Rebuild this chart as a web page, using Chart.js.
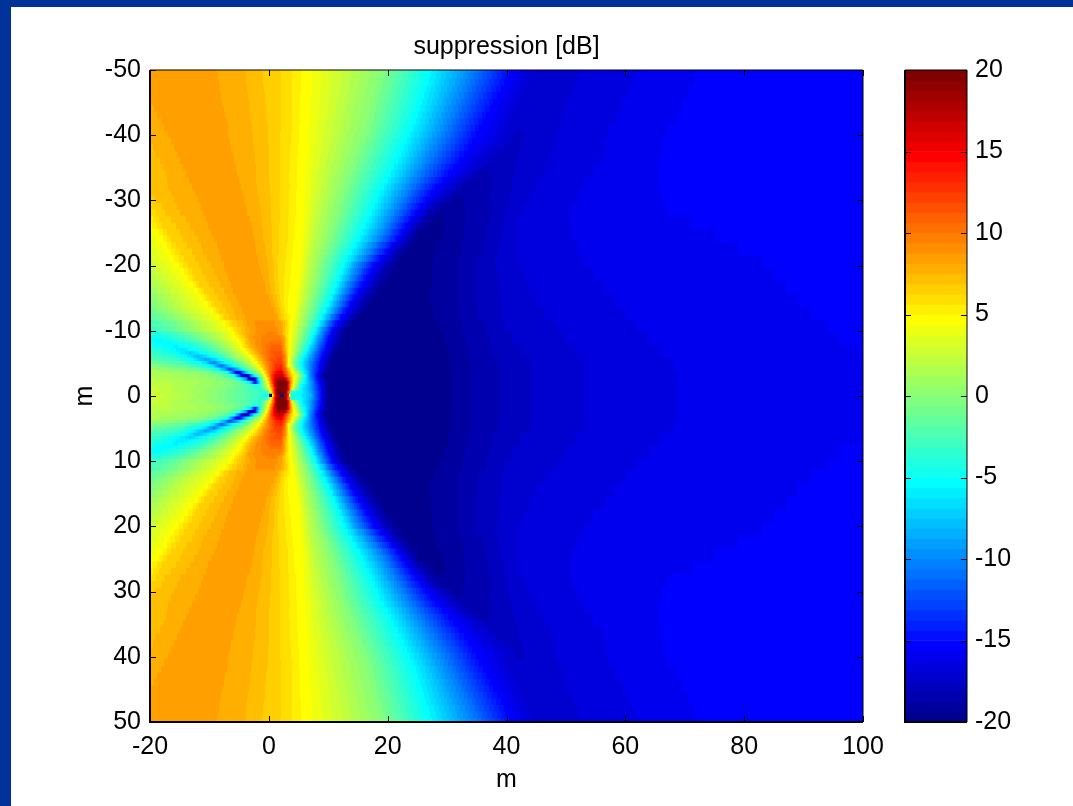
<!DOCTYPE html>
<html lang="en">
<head>
<meta charset="UTF-8">
<title>suppression [dB]</title>
<script src="https://cdn.jsdelivr.net/npm/chart.js"></script>
<style>
    html, body { margin: 0; padding: 0; background: #fff; overflow: hidden; }
    #frameLeft { position: absolute; left: 0; top: 0; width: 11px; height: 806px; background: #003399; }
    #frameTop { position: absolute; left: 0; top: 0; width: 1073px; height: 7px; background: #003399; }
    #mainChart { position: absolute; left: 0; top: 0; }
    #colorBar { position: absolute; left: 890px; top: 0; }
</style>
</head>
<body>
<div id="frameLeft"></div>
<div id="frameTop"></div>
<canvas id="mainChart" width="1009" height="806"></canvas>
<canvas id="colorBar" width="183" height="806"></canvas>
<script>
// tick labels
const xTicks = [-20, 0, 20, 40, 60, 80, 100];
const yTicks = [-50, -40, -30, -20, -10, 0, 10, 20, 30, 40, 50];
const barTicks = [-20, -15, -10, -5, 0, 5, 10, 15, 20];

// rows, the lower half, the upper half is its mirror (m)
const rowY = [0, 0.5, 1, 1.5, 2, 2.5, 3, 3.5, 4, 4.5, 5, 5.5, 6, 6.5, 7, 7.5, 8, 8.5, 9, 9.5, 10,
    11, 12, 13, 14, 15, 16, 17, 18, 19, 20, 21, 22, 23, 24, 25, 26, 27, 28, 29, 30,
    31, 32, 33, 34, 35, 36, 37, 38, 39, 40, 41, 42, 43, 44, 45, 46, 47, 48, 49, 50];

// per row, from the left edge to the dark trough: x (m), suppression (dB), x, suppression, ...
const nearStops = [
    [-20,3,-15,2,-10,0.5,-5,-1.5,-2,-3,-0.8,-4.5,-0.05,-5,0,-19.7,0.5,-19.7,0.55,2,0.9,11,1.3,18,1.85,19.6,1.9,-19.7,2.4,-19.7,2.45,19.6,2.9,18,3.3,13,3.7,-4,5.3,-5.5,7,-8,8.8,-15,9.6,-18,10.2,-19.4],
    [-20,2.9,-10,0.5,-5,-1.5,-2,-3,-0.6,-3.5,0,-1,0.4,5,0.9,13,1.3,18,1.6,19.6,2.9,19.6,3.2,12,3.5,10,3.7,-5,4.2,-4,5.3,-5,7,-8.5,8.7,-15,9.4,-18,10,-19.4],
    [-20,2.7,-10,0.5,-5,-1.5,-2.5,-3,-1.5,-3.5,-0.7,-1,0,3,0.5,8,0.9,13,1.3,18,1.6,19.6,3,19.6,3.3,15,3.6,9,4,4,4.7,-1,5.3,-5,7,-9,8.7,-15,9.4,-18,9.8,-19.4],
    [-20,2.5,-10,0.8,-5.5,-0.8,-3.5,-2.5,-2.3,-4,-1.7,-4,-1,-1.5,-0.4,2,0.2,7,0.7,12,1.1,17,1.5,19.6,3,19.6,3.3,14,3.7,8.5,4.2,3.5,4.8,-0.5,5.4,-4.5,7,-9,8.6,-15,9.4,-18,9.9,-19.4],
    [-20,2.3,-10,1,-6,-0.5,-4,-3,-3,-7,-2.6,-12,-2.2,-15,-1.7,-7,-1.2,-2,-0.6,1.5,-0.2,4.5,0.3,9,0.8,14,1.3,18,1.6,19.6,3,19.6,3.4,13,3.8,8,4.4,3,5,0,5.6,-4,7,-9,8.4,-15,9.4,-18,10,-19.4],
    [-20,2,-10.5,0.7,-7,-0.8,-5,-3.5,-3.8,-10,-3.2,-18,-2.4,-18,-1.9,-8,-1.4,-3,-1,0.5,-0.4,4.5,0.1,8.5,0.7,13.5,1.2,17,1.7,19,2.7,18,3.3,12,3.9,7,4.5,3.5,5,0,5.9,-5,7,-9.5,8.2,-15,9.3,-18,9.9,-19.4],
    [-20,1.8,-11,0.5,-8,-1,-6,-4,-5,-11,-4.4,-18,-3.6,-18,-3,-10,-2.4,-5,-1.8,-2,-1.2,1,-0.7,4.5,-0.1,8,0.6,13,1.2,15.5,2,17.5,2.6,14,3.2,10,3.9,6,4.6,4.5,5.3,0,6.1,-5,7,-10,8.1,-15,9.2,-19.4],
    [-20,1.5,-12,0.3,-9,-1.5,-7,-4.5,-6,-11,-5.5,-16,-4.8,-15,-4,-8,-3.2,-4,-2.6,-1.5,-1.6,1.5,-1,4.5,-0.3,8,0.5,12,1.2,14.5,2,16,2.7,12.5,3.2,9,3.9,5.3,4.5,2,5,0,5.8,-5,7,-10,8.2,-15,9.3,-18,10,-19.4],
    [-20,0.8,-13,-0.8,-10,-3,-8.5,-5.5,-7.3,-9,-6.6,-13,-5.8,-10,-4.6,-5,-3.5,-1.5,-2.5,1,-1.3,4.5,-0.5,8,0.4,11,1.2,13,2,14,2.8,11,3.2,8,3.9,4.5,4.5,0,5.5,-5,6.9,-10,8.4,-15,9.5,-18,10.3,-19.4],
    [-20,0,-14,-1.8,-11,-4,-9.3,-6.5,-8,-11.5,-6.8,-7,-5.3,-3.5,-4,-1,-2.8,1.8,-1.8,4.5,-0.7,8,0.2,10.5,1.1,12.5,2,13.2,2.8,10,3.2,5,3.8,3,4.2,0,5.4,-5,6.9,-10,8.5,-15,9.6,-18,10.4,-19.4],
    [-20,-1,-15,-2.5,-12,-4.8,-10.5,-6.5,-9.3,-10.5,-8,-6.5,-6,-3,-4.5,-0.5,-3,2.5,-2.2,4.5,-1,8,0,10,1,12,2,12.5,2.9,9,3.3,4.5,3.8,2.3,4.1,0,5.3,-5,7,-10,8.6,-15,9.7,-18,10.6,-19.4],
    [-20,-2,-15.5,-3.2,-13,-5.2,-10.6,-9,-8.5,-5.5,-7,-3,-5.3,0.3,-3.8,2.3,-2.7,4.5,-1.5,7.5,-0.4,9.8,0.5,11.5,2,12.2,2.9,8.8,3.3,5,3.5,4.5,3.9,2.3,4.3,0,5.5,-5,7.2,-10,8.8,-15,9.9,-18,10.8,-19.4],
    [-20,-2.5,-16,-3.8,-14,-5.2,-12,-8,-10,-5.5,-8,-3,-6,0.3,-4.5,2.3,-3.2,4.5,-2,7,-0.8,9.5,0.5,11,2,11.8,2.9,8.5,3.3,5.4,3.4,4.5,4,2.3,4.5,0,5.8,-5,7.4,-10,9,-15,10.2,-18,11,-19.4],
    [-20,-3,-16,-4.8,-13.2,-7,-11,-5,-9,-3,-7,-0.3,-5.3,2,-3.8,4.5,-2.6,7,-1.8,8.6,-0.5,10,0.5,11.2,2,11.5,2.8,8.2,3.2,5.5,3.5,4.5,4.1,2.3,4.7,0,6.1,-5,7.6,-10,9.2,-15,10.4,-18,11.3,-19.4],
    [-20,-3.5,-17,-4.8,-14.5,-6.3,-12,-4.5,-10,-3,-7.8,-0.3,-6,2,-4.3,4.5,-3,7,-2.1,8.6,-0.8,9.6,0.5,11,2,11.2,2.8,8,3.2,5.6,3.5,4.5,4.2,2.3,4.9,0,6.4,-5,7.9,-10,9.4,-15,10.7,-18,11.6,-19.4],
    [-20,-4.2,-15.7,-5.8,-13,-4.5,-11,-3,-8.5,-0.3,-6.5,2.2,-4.7,4.5,-3.4,7,-2.4,8.6,-1,9.6,0.5,10.8,2,11,2.7,8,3.1,5.8,3.5,4.5,4.3,2.3,5,0,6.6,-5,8.1,-10,9.6,-15,10.9,-18,11.9,-19.4],
    [-20,-4.8,-17,-5.5,-14.5,-4.5,-12,-3,-9.5,-0.5,-7,2,-5,4.5,-3.7,7,-2.6,8.6,-1.2,9.4,0.5,10.2,2,10.4,2.7,8,3.1,6,3.6,4.5,4.4,2.3,5.2,0,6.9,-5,8.3,-10,9.8,-15,11.2,-18,12.2,-19.4],
    [-20,-5,-18.3,-5.2,-15.5,-4,-12.5,-2,-9.5,0.5,-7,3,-5.4,4.5,-4.1,6.5,-3.1,8.2,-1.5,9.3,0,9.9,1.9,10,2.7,8,3.1,5.9,3.6,4.5,4.5,2.3,5.3,0,7.1,-5,8.5,-10,10,-15,11.4,-18,12.4,-19.4],
    [-20,-5,-17,-4,-14,-2.5,-11,0,-8,2.5,-5.9,4.5,-4.6,6.25,-3.6,8,-2,9.2,0,9.6,1.8,9.7,2.6,8,3,5.8,3.7,4.5,4.6,2.3,5.5,0,7.3,-5,8.7,-10,10.2,-15,11.6,-18,12.6,-19.4],
    [-20,-4.5,-16,-3,-13,-1,-10,1,-7.5,3,-6.3,4.5,-5,6.25,-3.8,7.8,-2.8,8.4,-1.4,9.3,1,9.5,2.1,8.4,2.8,6.4,3.3,5.4,3.7,4.5,4.7,2.3,5.6,0,7.5,-5,9,-10,10.4,-15,11.8,-18,12.8,-19.4],
    [-20,-3.5,-16,-1.5,-13,0.5,-10,2.5,-6.7,4.5,-5.3,6.25,-4,7.5,-3,8.2,-1.5,9.1,1,9.3,2.2,8.125,2.8,6.5,3.3,5.5,3.8,4.5,4.8,2.3,5.8,0,7.8,-5,9.2,-10,10.6,-15,12,-18,13,-19.4,21,-19.6],
    [-20,-2.8,-16,-1,-12,1.5,-7.5,4.5,-6.2,6.25,-4.8,7.2,-3.6,8.125,-2,8.9,0.8,8.9,2,8.125,2.6,7,3.1,6,3.6,5,4.1,4.5,5,2.3,6.2,0,8.3,-5,9.8,-10,11.4,-15,13,-18,14,-19.4,21,-19.6],
    [-20,-2,-16,0,-12.5,2.3,-8.7,4.5,-7.5,6.25,-6.3,7.2,-4,8.125,-2.2,8.7,1.4,8.125,1.9,7,2.6,6.25,3.1,5.6,3.5,5,4.2,4.5,5.2,2.3,6.5,0,8.8,-5,10.5,-10,12.2,-15,14,-18,15,-19.4,21,-19.6],
    [-20,-1.2,-15.5,1.5,-9.7,4.5,-8.4,6.25,-7.2,6.875,-5.9,7.5,-4.5,8.125,-2.3,8.7,0.9,8.125,1.4,7.5,1.9,6.875,2.3,6.25,2.8,5.6,3.3,5,4.4,4.5,5.4,2.3,6.8,0,9.3,-5,11.2,-10,13,-15,14.8,-18,16,-19.4,21,-19.6],
    [-20,-0.5,-16,1.8,-10.7,4.5,-9.3,6.25,-7.9,6.875,-6.4,7.5,-5,8.125,-2.6,8.6,0.4,8.125,1,7.5,1.6,6.875,2.1,6.25,2.6,5.6,3.3,5,4.6,4.5,5.7,2.3,7.1,0,9.8,-5,11.8,-10,13.7,-15,15.5,-18,17,-19.4,21,-19.6],
    [-20,0.1,-11.5,4.5,-10,6.25,-8.6,6.875,-7,7.5,-5.5,8.125,-3,8.6,0,8.125,0.7,7.5,1.3,6.875,1.9,6.25,2.5,5.6,3.3,5,4.7,4.5,5.9,2.3,7.4,0,10.3,-5,12.3,-10,14.3,-15,16.2,-18,17.8,-19.4,21,-19.6],
    [-20,0.7,-12.4,4.5,-10.9,6.25,-9.3,6.875,-7.6,7.5,-6,8.125,-3.4,8.6,-0.4,8.125,0.3,7.5,1,6.875,1.7,6.25,2.5,5.6,3.4,5,4.8,4.5,6,2.3,7.7,0,10.8,-5,12.9,-10,15,-15,17,-18,18.5,-19.4,21,-19.6],
    [-20,1.2,-13.3,4.5,-11.7,6.25,-10,6.875,-8.2,7.5,-6.4,8.125,-3.6,8.5,-0.7,8.125,0.2,7.5,1,6.875,1.7,6.25,2.6,5.6,3.5,5,5,4.5,6.2,2.3,7.9,0,11.2,-5,13.4,-10,15.7,-15,17.7,-18,19.2,-19.4,22,-19.6],
    [-20,1.6,-14.1,4.5,-12.4,6.25,-10.6,6.875,-8.7,7.5,-6.8,8.125,-4,8.5,-1,8.125,0.1,7.5,0.9,6.875,1.6,6.25,2.6,5.6,3.6,5,5.1,4.5,6.4,2.3,8.2,0,11.7,-5,14,-10,16.4,-15,18.4,-18,20,-19.4,22.5,-19.6],
    [-20,2.2,-14.9,4.5,-13,6.25,-11.2,6.875,-9.2,7.5,-7.2,8.125,-4.2,8.4,-1.3,8.125,0,7.5,0.9,6.875,1.6,6.25,2.7,5.6,3.7,5,5.2,4.5,6.5,2.3,8.4,0,12.1,-5,14.5,-10,17,-15,19.1,-18,20.7,-19.4,23,-19.6],
    [-20,2.7,-15.8,4.5,-13.6,6.25,-11.8,6.875,-9.8,7.5,-7.6,8.125,-4.5,8.4,-1.6,8.125,-0.2,7.5,0.8,6.875,1.6,6.25,2.8,5.6,3.8,5,5.3,4.5,6.7,2.3,8.6,0,12.5,-5,15,-10,17.6,-15,19.8,-18,21.5,-19.4,23.5,-19.6],
    [-20,3,-16.6,4.5,-14.2,6.25,-12.5,6.875,-10.4,7.5,-8,8.125,-4.8,8.4,-1.8,8.125,-0.3,7.5,0.7,6.875,1.6,6.25,2.9,5.6,3.9,5,5.4,4.5,6.8,2.3,9,0,13,-5,16,-10,18.7,-15,20.7,-18,22.2,-19.4,24.5,-19.6],
    [-20,3.2,-17.3,4.5,-15,6.25,-13,6.875,-11,7.5,-8.4,8.125,-5,8.4,-2.1,8.125,-0.5,7.5,0.6,6.875,1.7,6.25,3,5.6,4,5,5.5,4.5,7,2.3,9.4,0,13.6,-5,16.8,-10,19.7,-15,21.5,-18.125,23,-19.4,25,-19.6],
    [-20,3.6,-17.7,4.5,-15.7,6.25,-13.8,6.875,-11.5,7.5,-8.8,8.125,-5.4,8.4,-2.3,8.125,-0.7,7.5,0.6,6.875,1.7,6.25,3.1,5.6,4.1,5,5.5,4.5,7.2,2.3,9.8,0,14.2,-5,17.6,-10,20.6,-15,22.5,-18.125,24,-19.4,26,-19.6],
    [-20,4,-18.4,4.5,-16.5,6.25,-14.5,6.875,-12,7.5,-9.3,8.125,-5.8,8.4,-2.5,8.125,-0.9,7.5,0.5,6.875,1.7,6.25,3.2,5.6,4.2,5,5.6,4.5,7.5,2.3,10.2,0,14.8,-5,18.5,-10,21.6,-15,23.5,-18.125,25,-19.4,27,-19.6],
    [-20,4.4,-19,4.5,-17.2,6.25,-15,6.875,-12.6,7.5,-9.7,8.125,-6.2,8.4,-2.7,8.125,-1,7.5,0.5,6.875,1.7,6.25,3.2,5.6,4.3,5,5.7,4.5,7.6,2.3,10.5,0,15.3,-5,19.2,-10,22.3,-15,24.2,-18.125,25.2,-19.4,27,-19.55],
    [-20,4.8,-18,6.25,-15.7,6.875,-13.2,7.5,-10.2,8.125,-6.6,8.4,-2.9,8.125,-1.1,7.5,0.5,6.875,1.7,6.25,3.3,5.6,4.3,5,5.7,4.5,7.8,2.3,10.8,0,15.8,-5,19.8,-10,23,-15,25,-18.125,26,-18.75,27,-19.4,28,-19.5],
    [-20,5.3,-18.5,6.25,-16.5,6.875,-14,7.5,-10.6,8.125,-7,8.4,-3.2,8.125,-1.2,7.5,0.4,6.875,1.8,6.25,3.3,5.6,4.4,5,5.8,4.5,8,2.3,11.1,0,16.3,-5,20.4,-10,23.8,-15,26,-18.125,26.8,-18.75,28,-19.4,28.8,-19.45],
    [-20,5.8,-19,6.25,-17.5,6.875,-14.9,7.5,-11.1,8.125,-7.3,8.4,-3.6,8.125,-1.3,7.5,0.4,6.875,1.8,6.25,3.4,5.6,4.5,5,5.8,4.5,8.2,2.3,11.4,0,16.8,-5,21,-10,24.6,-15,27,-18.125,28,-18.75,30,-19.2],
    [-20,6.3,-18,6.875,-15.5,7.5,-11.5,8.125,-7.7,8.4,-3.9,8.125,-1.5,7.5,0.3,6.875,1.8,6.25,3.4,5.6,4.5,5,5.8,4.5,8.4,2.3,11.7,0,17.3,-5,21.6,-10,25.4,-15,28,-18.125,29,-18.75,31,-19],
    [-20,6.7,-16,7.5,-11.9,8.125,-8,8.4,-4.2,8.125,-1.6,7.5,0.3,6.875,1.8,6.25,3.5,5.6,4.6,5,5.9,4.5,8.7,2.3,12,0,17.8,-5,22.2,-10,26.2,-15,29,-17.5,29.8,-18.125,30.8,-18.75,32,-18.8],
    [-20,6.9,-16.5,7.5,-12.4,8.125,-8.4,8.4,-4.4,8.125,-1.8,7.5,0.2,6.875,1.9,6.25,3.5,5.6,4.6,5,5.9,4.5,8.9,2.3,12.3,0,18.2,-5,22.9,-10,27.1,-15,30.3,-17.5,31,-18.125,32,-18.7],
    [-20,7,-17,7.5,-12.9,8.125,-8.8,8.4,-4.7,8.125,-2,7.5,0.2,6.875,1.9,6.25,3.6,5.6,4.7,5,5.9,4.5,9.2,2.3,12.7,0,18.7,-5,23.6,-10,28,-15,31.5,-17.5,32.5,-18.125,34,-18.6],
    [-20,7,-13.5,8.125,-9,8.4,-5,8.125,-2.1,7.5,0.1,6.875,1.9,6.25,3.5,5.6,4.7,5,5.9,4.5,9.3,2.3,13,0,19.4,-5,24.3,-10,29.2,-15,31.5,-16.875,32.5,-17.5,33.5,-18.125,35,-18.4],
    [-20,7,-14,8.125,-9.3,8.4,-5.3,8.125,-2.2,7.5,0.1,6.875,1.9,6.25,3.5,5.6,4.7,5,6,4.5,9.5,2.3,13.4,0,20,-5,25,-10,30.2,-15,32.5,-16.25,33,-16.875,34.2,-17.5,35.2,-18.125,36,-18.2],
    [-20,7.1,-14.5,8.125,-9.7,8.4,-5.5,8.125,-2.2,7.5,0.1,6.875,1.9,6.25,3.6,5.6,4.8,5,6.1,4.5,9.8,2.3,13.8,0,20.5,-5,25.7,-10,31,-15,33.5,-16.25,34.5,-16.875,36,-17.5,36.8,-18.05],
    [-20,7.2,-15,8.125,-10,8.4,-5.8,8.125,-2.3,7.5,0,6.875,1.9,6.25,3.6,5.6,4.8,5,6.2,4.5,10,2.3,14.2,0,21,-5,26.4,-10,32,-15,34,-16.25,35,-16.875,37,-17.5,39,-18],
    [-20,7.3,-15.5,8.125,-10.5,8.4,-6,8.125,-2.4,7.5,0,6.875,1.9,6.25,3.7,5.6,4.9,5,6.3,4.5,10.3,2.3,14.6,0,21.5,-5,27,-10,32.8,-15,35.3,-16.25,36.5,-16.875,38.3,-17.5,40,-17.9],
    [-20,7.4,-16,8.125,-11,8.4,-6.3,8.125,-2.5,7.5,0,6.875,1.9,6.25,3.7,5.6,4.9,5,6.3,4.5,10.5,2.3,15,0,22,-5,27.7,-10,33.5,-15,36,-16.25,37.5,-16.875,39.5,-17.5,41,-17.8],
    [-20,7.5,-16.5,8.125,-11.5,8.4,-6.5,8.125,-2.6,7.5,-0.1,6.875,1.9,6.25,3.8,5.6,5,5,6.4,4.5,10.8,2.3,15.4,0,22.5,-5,28.3,-10,34.2,-15,37.6,-16.25,39,-16.875,40.8,-17.5,41.5,-17.7],
    [-20,7.6,-17,8.125,-12,8.4,-6.8,8.125,-2.7,7.5,-0.1,6.875,1.9,6.25,3.8,5.6,5,5,6.4,4.5,11,2.3,15.9,0,23,-5,29,-10,34.8,-15,38,-16.25,39.5,-16.875,41.5,-17.5,42.2,-17.6],
    [-20,7.7,-17.6,8.125,-12,8.4,-6.8,8.125,-2.9,7.5,-0.2,6.875,2,6.25,3.9,5.6,5.1,5,6.5,4.5,11.2,2.3,16.2,0,23.5,-5,29.5,-10,35.4,-15,38.4,-16.25,39.8,-16.875,41.5,-17.45],
    [-20,7.8,-18.2,8.125,-12.5,8.4,-7,8.125,-3,7.5,-0.3,6.875,2,6.25,3.9,5.6,5.2,5,6.6,4.5,11.4,2.3,16.6,0,24,-5,30,-10,36,-15,38.8,-16.25,40.3,-16.875,42.5,-17.45],
    [-20,7.9,-18.8,8.125,-12.5,8.4,-7.3,8.125,-3.1,7.5,-0.4,6.875,2,6.25,4,5.6,5.2,5,6.7,4.5,11.6,2.3,16.8,0,24.3,-5,30.5,-10,36.6,-15,39.5,-16.25,41,-16.875,43,-17.4],
    [-20,8,-19.4,8.125,-13,8.4,-7.6,8.125,-3.2,7.5,-0.5,6.875,2,6.25,4,5.6,5.3,5,6.7,4.5,11.8,2.3,17.1,0,24.7,-5,31,-10,37.2,-15,40,-16.25,41.5,-16.875,44,-17.35],
    [-20,8.125,-13,8.4,-7.8,8.125,-3.4,7.5,-0.6,6.875,2,6.25,4,5.6,5.3,5,6.8,4.5,12,2.3,17.3,0,25,-5,31.5,-10,37.8,-15,40.5,-16.25,42,-16.875,45,-17.3],
    [-20,8.15,-13,8.4,-8,8.125,-3.5,7.5,-0.7,6.875,2,6.25,4,5.6,5.3,5,6.8,4.5,12.2,2.3,17.6,0,25.3,-5,32,-10,38.4,-15,41,-16.25,42.5,-16.875,46,-17.3],
    [-20,8.2,-13,8.4,-8.2,8.125,-3.7,7.5,-0.8,6.875,2,6.25,4,5.6,5.4,5,6.9,4.5,12.4,2.3,17.9,0,25.6,-5,32.5,-10,39,-15,41.5,-16.25,43,-16.875,46.5,-17.25],
    [-20,8.3,-8.4,8.125,-3.8,7.5,-0.9,6.875,2,6.25,4,5.6,5.4,5,6.9,4.5,12.6,2.3,18.2,0,26,-5,33,-10,39.5,-15,42,-16.25,43.5,-16.875,47,-17.2],
    [-20,8.4,-8.6,8.125,-3.9,7.5,-1,6.875,2,6.25,4,5.6,5.4,5,7,4.5,12.8,2.3,18.5,0,26.3,-5,33.5,-10,40,-15,42.5,-16.25,44,-16.875,47.5,-17.2],
    [-20,8.4,-8.8,8.125,-4,7.5,-1.1,6.875,1.9,6.25,4,5.6,5.5,5,7,4.5,13,2.3,18.7,0,26.6,-5,34,-10,40.5,-15,43,-16.25,44.5,-16.875,48,-17.2]
];

// right part of the plot, the bands there move slowly with y so fewer rows are enough
const tailY = [0, 4, 6, 8, 10, 12, 14, 16, 18, 20, 22, 24, 26, 28, 30, 32, 34, 36, 38, 40, 42, 44, 46, 48, 50];
const tailStops = [
    [30.5,-19.4,34,-18.75,38.9,-18.125,44.3,-17.5,53.2,-16.875,68.7,-16.25,100,-15.7],
    [30.3,-19.4,34,-18.75,38.5,-18.125,44,-17.5,53,-16.875,68,-16.25,100,-15.7],
    [30,-19.4,33.5,-18.75,37.5,-18.125,42.5,-17.5,51.5,-16.875,66,-16.25,99.5,-15.625,100,-15.3],
    [29.3,-19.4,33,-18.75,37,-18.125,41,-17.5,50,-16.875,64,-16.25,96,-15.625,100,-15.3],
    [28.5,-19.4,32.5,-18.75,36.5,-18.125,39.8,-17.5,48.5,-16.875,62,-16.25,94,-15.625,100,-15.3],
    [27.5,-19.4,32,-18.75,35.3,-18.125,39,-17.5,46.5,-16.875,60,-16.25,91,-15.625,100,-15.3],
    [27,-19.4,32,-18.75,35,-18.125,39,-17.5,45,-16.875,58.3,-16.25,89,-15.625,100,-15.3],
    [27.1,-19.4,32,-18.75,35,-18.125,38.8,-17.5,44,-16.875,56.5,-16.25,87,-15.625,100,-15.3],
    [27.3,-19.4,32,-18.75,35,-18.125,38.5,-17.5,43,-16.875,54.5,-16.25,85,-15.625,100,-15.3],
    [27.5,-19.4,32,-18.75,35,-18.125,38,-17.5,42,-16.875,53,-16.25,83,-15.625,100,-15.3],
    [28,-19.4,32.5,-18.75,36,-18.125,38.5,-17.5,41.8,-16.875,52,-16.25,79,-15.625,100,-15.3],
    [29,-19.4,32.8,-18.75,36.5,-18.125,39,-17.5,41.8,-16.875,51,-16.25,75,-15.625,100,-15.3],
    [29.4,-19.375,33,-18.75,37,-18.125,39.5,-17.5,42,-16.875,50.7,-16.25,71,-15.625,100,-15.3],
    [33,-18.75,37.5,-18.125,40,-17.5,43,-16.875,51,-16.25,67,-15.625,100,-15.3],
    [32.7,-18.75,37,-18.125,40.5,-17.5,44,-16.875,52,-16.25,66,-15.625,100,-15.3],
    [37.5,-18.125,41,-17.5,45,-16.875,53,-16.25,65.5,-15.625,100,-15.3],
    [37,-18.125,41.5,-17.5,46.5,-16.875,54.5,-16.25,65.5,-15.625,100,-15.3],
    [42,-17.5,47.5,-16.875,56,-16.25,65.8,-15.625,100,-15.3],
    [42.5,-17.5,48,-16.875,56.5,-16.25,66.3,-15.625,100,-15.3],
    [43,-17.5,48.5,-16.875,57,-16.25,67,-15.625,100,-15.3],
    [49.5,-16.875,58.5,-16.25,68.5,-15.625,100,-15.3],
    [50,-16.875,59.5,-16.25,69.5,-15.625,100,-15.3],
    [51,-16.875,60.5,-16.25,70.5,-15.625,100,-15.3],
    [52,-16.875,61.3,-16.25,71.5,-15.625,100,-15.3],
    [52.7,-16.875,62,-16.25,72.6,-15.625,100,-15.3]
];

const plotLeft = 150, plotRight = 863, plotTop = 70, plotBottom = 722;
const barLeft = 905, barRight = 967;
const dbMin = -20, levelStep = 0.625, levelCount = 64;

// matlab jet(64)
function jetColor(k) {
    const t = (k + 1) / levelCount;
    const c = v => Math.round(255 * Math.max(0, Math.min(1, v)));
    return `rgb(${c(Math.min(4 * t - 1.5, 4.5 - 4 * t))},${c(Math.min(4 * t - 0.5, 3.5 - 4 * t))},${c(Math.min(4 * t + 0.5, 2.5 - 4 * t))})`;
}

function levelOf(v) {
    return Math.max(0, Math.min(levelCount - 1, Math.floor((v - dbMin) / levelStep)));
}

// fill of one row, goes through the colormap levels like the image does
function rowFill(context, stops) {
    const xScale = context.chart.scales.x;
    // options also get resolved once before the first layout
    if (!xScale || !Number.isFinite(xScale.left) || xScale.right <= xScale.left) return 'transparent';
    const g = context.chart.ctx.createLinearGradient(xScale.left, 0, xScale.right, 0);
    const pos = x => Math.max(0, Math.min(1, (xScale.getPixelForValue(x) - xScale.left) / (xScale.right - xScale.left)));
    let k = levelOf(stops[1]);
    g.addColorStop(0, jetColor(k));
    for (let i = 2; i < stops.length; i += 2) {
        const x0 = stops[i - 2], v0 = stops[i - 1], x1 = stops[i], v1 = stops[i + 1];
        const target = levelOf(v1);
        while (k !== target) {
            const next = k + Math.sign(target - k);
            const edge = dbMin + levelStep * Math.max(k, next);
            const p = pos(x0 + (x1 - x0) * (edge - v0) / (v1 - v0));
            g.addColorStop(p, jetColor(k));
            g.addColorStop(p, jetColor(next));
            k = next;
        }
    }
    g.addColorStop(1, jetColor(k));
    return g;
}

function stopsOfRow(y, i) {
    let t = 0;
    tailY.forEach((ty, j) => { if (ty <= y) t = j; });
    return nearStops[i].concat(tailStops[t]);
}

// rows of the whole plot, mirrored over y = 0
const plotRows = [];
rowY.forEach((y, i) => {
    if (y > 0) plotRows.push({ y: -y, stops: stopsOfRow(y, i) });
});
plotRows.reverse();
rowY.forEach((y, i) => plotRows.push({ y: y, stops: stopsOfRow(y, i) }));

const rowBars = plotRows.map((row, i) => {
    const lo = i === 0 ? -50 : (plotRows[i - 1].y + row.y) / 2;
    const hi = i === plotRows.length - 1 ? 50 : (plotRows[i + 1].y + row.y) / 2;
    return { x: 40, y: [lo, hi] };
});

// box and inward ticks, matlab style
const boxAndTicks = {
    id: 'boxAndTicks',
    afterDraw(chart) {
        const c = chart.ctx, a = chart.chartArea;
        c.save();
        c.strokeStyle = '#000';
        c.lineWidth = 1;
        c.beginPath();
        ['x', 'y'].forEach(id => {
            const s = chart.scales[id];
            if (!s.options.display) return;
            s.ticks.forEach(t => {
                const p = Math.round(s.getPixelForValue(t.value)) + 0.5;
                if (id === 'x') {
                    c.moveTo(p, a.top); c.lineTo(p, a.top + 6);
                    c.moveTo(p, a.bottom); c.lineTo(p, a.bottom - 6);
                } else {
                    c.moveTo(a.left, p); c.lineTo(a.left + 6, p);
                    c.moveTo(a.right, p); c.lineTo(a.right - 6, p);
                }
            });
        });
        c.stroke();
        c.beginPath();
        c.moveTo(a.left, a.top); c.lineTo(a.right, a.top);
        c.moveTo(a.right, a.top); c.lineTo(a.right, a.bottom);
        c.stroke();
        c.lineWidth = 2;
        c.beginPath();
        c.moveTo(a.left, a.top); c.lineTo(a.left, a.bottom); c.lineTo(a.right, a.bottom);
        c.stroke();
        c.restore();
    }
};

Chart.defaults.font.family = '"Liberation Sans", Arial, sans-serif';
Chart.defaults.color = '#000';

new Chart(document.getElementById('mainChart'), {
    type: 'bar',
    data: {
        datasets: [{
            data: rowBars,
            barThickness: plotRight - plotLeft,
            borderWidth: 0,
            inflateAmount: 0.7,
            backgroundColor: context => rowFill(context, plotRows[context.dataIndex].stops)
        }]
    },
    options: {
        responsive: false,
        animation: false,
        events: [],
        layout: { padding: { left: 0, right: 1009 - plotRight, top: 0, bottom: 0 } },
        plugins: {
            legend: { display: false },
            tooltip: { enabled: false },
            title: {
                display: true,
                fullSize: false,
                text: 'suppression [dB]',
                color: '#000',
                font: { size: 25, weight: 'normal', lineHeight: 1.2 },
                padding: { top: 32, bottom: 8 }
            }
        },
        scales: {
            x: {
                type: 'linear',
                min: -20,
                max: 100,
                offset: false,
                grid: { display: false },
                border: { display: false },
                ticks: { font: { size: 25 }, padding: 2, autoSkip: false, maxRotation: 0, color: '#000' },
                afterBuildTicks: s => { s.ticks = xTicks.map(v => ({ value: v })); },
                afterFit: s => { s.height = 806 - plotBottom; },
                title: { display: true, text: 'm', color: '#000', font: { size: 25 }, padding: { top: 4, bottom: 11 } }
            },
            y: {
                type: 'linear',
                min: -50,
                max: 50,
                reverse: true,
                grid: { display: false },
                border: { display: false },
                ticks: { font: { size: 25 }, padding: 1, autoSkip: false, color: '#000' },
                afterBuildTicks: s => { s.ticks = yTicks.map(v => ({ value: v })); },
                afterFit: s => { s.width = plotLeft; },
                title: { display: true, text: 'm', color: '#000', font: { size: 25 }, padding: { top: 70, bottom: 0 } }
            }
        }
    },
    plugins: [boxAndTicks]
});

// colorbar, one bar per colormap level
const levelBars = Array.from({ length: levelCount }, (_, k) => ({
    x: 0,
    y: [dbMin + k * levelStep, dbMin + (k + 1) * levelStep]
}));

new Chart(document.getElementById('colorBar'), {
    type: 'bar',
    data: {
        datasets: [{
            data: levelBars,
            barThickness: barRight - barLeft,
            borderWidth: 0,
            backgroundColor: levelBars.map((_, k) => jetColor(k))
        }]
    },
    options: {
        responsive: false,
        animation: false,
        events: [],
        layout: { padding: { left: barLeft - 890, right: 0, top: plotTop, bottom: 806 - plotBottom } },
        plugins: { legend: { display: false }, tooltip: { enabled: false }, title: { display: false } },
        scales: {
            x: { type: 'linear', min: -1, max: 1, display: false, offset: false },
            y: {
                type: 'linear',
                min: -20,
                max: 20,
                position: 'right',
                grid: { display: false },
                border: { display: false },
                ticks: { font: { size: 25 }, padding: 0, autoSkip: false, color: '#000' },
                afterBuildTicks: s => { s.ticks = barTicks.map(v => ({ value: v })); },
                afterFit: s => { s.width = 1073 - barRight; }
            }
        }
    },
    plugins: [boxAndTicks]
});
</script>
</body>
</html>
